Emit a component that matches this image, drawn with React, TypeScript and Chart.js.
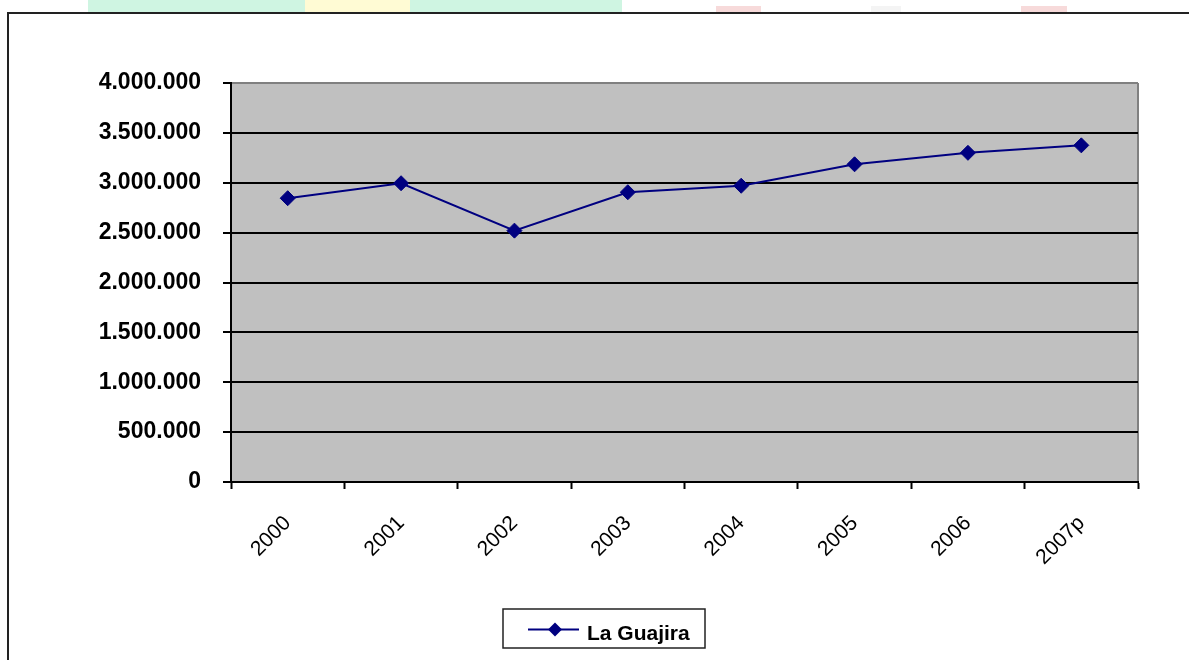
import React, { useEffect, useRef } from 'react';
import { Chart, registerables } from 'chart.js';

Chart.register(...registerables);

const categories = ['2000', '2001', '2002', '2003', '2004', '2005', '2006', '2007p'];
const seriesLabel = 'La Guajira';
const seriesValues = [2845000, 2995000, 2520000, 2905000, 2970000, 3185000, 3300000, 3375000];
const yTickValues = [0, 500000, 1000000, 1500000, 2000000, 2500000, 3000000, 3500000, 4000000];

const LINE_COLOR = '#000080';
const FONT = "'Liberation Sans', Arial, sans-serif";

const fmt = (v: number) => String(Math.round(v)).replace(/\B(?=(\d{3})+(?!\d))/g, '.');

const plotBg = {
  id: 'plotBg',
  beforeDraw(chart: any) {
    const { ctx, chartArea } = chart;
    const { left, top, right, bottom } = chartArea;
    ctx.save();
    ctx.fillStyle = '#C0C0C0';
    ctx.fillRect(left, top, right - left, bottom - top);
    ctx.strokeStyle = '#808080';
    ctx.lineWidth = 2;
    ctx.beginPath();
    ctx.moveTo(right, top);
    ctx.lineTo(right, bottom);
    ctx.stroke();
    ctx.restore();
  },
};

const boxLegend = {
  id: 'boxLegend',
  afterDraw(chart: any) {
    const ctx = chart.ctx;
    const ds = chart.data.datasets[0];
    ctx.save();
    const bx = 503, by = 609, bw = 202, bh = 39;
    ctx.fillStyle = '#fff';
    ctx.fillRect(bx, by, bw, bh);
    ctx.lineWidth = 1.5;
    ctx.strokeStyle = '#222';
    ctx.strokeRect(bx, by, bw, bh);
    const ly = 629.5;
    ctx.strokeStyle = ds.borderColor;
    ctx.lineWidth = 2;
    ctx.beginPath();
    ctx.moveTo(528, ly);
    ctx.lineTo(579, ly);
    ctx.stroke();
    const cx = 555, r = 7;
    ctx.fillStyle = ds.pointBackgroundColor;
    ctx.beginPath();
    ctx.moveTo(cx - r, ly);
    ctx.lineTo(cx, ly - r);
    ctx.lineTo(cx + r, ly);
    ctx.lineTo(cx, ly + r);
    ctx.closePath();
    ctx.fill();
    ctx.fillStyle = '#000';
    ctx.font = `bold 21px ${FONT}`;
    ctx.textAlign = 'left';
    ctx.textBaseline = 'alphabetic';
    ctx.fillText(ds.label, 587, 639.5);
    ctx.restore();
  },
};

export default function App() {
  const ref = useRef<HTMLCanvasElement | null>(null);

  useEffect(() => {
    if (!ref.current) return;
    Chart.defaults.font.family = FONT;
    const chart = new Chart(ref.current, {
      type: 'line',
      data: {
        labels: categories,
        datasets: [
          {
            label: seriesLabel,
            data: seriesValues,
            borderColor: LINE_COLOR,
            backgroundColor: LINE_COLOR,
            pointBackgroundColor: LINE_COLOR,
            pointBorderColor: LINE_COLOR,
            borderWidth: 2,
            pointStyle: 'rectRot',
            pointRadius: 7.5,
            pointBorderWidth: 1,
            tension: 0,
            fill: false,
          },
        ],
      },
      options: {
        animation: false,
        responsive: false,
        devicePixelRatio: 1,
        layout: { padding: { left: 0, right: 51, top: 83, bottom: 0 } },
        plugins: {
          legend: { display: false },
          tooltip: { enabled: false },
          title: { display: false },
        },
        scales: {
          x: {
            type: 'category',
            offset: true,
            grid: {
              display: true,
              drawOnChartArea: false,
              drawTicks: true,
              offset: true,
              tickLength: 7,
              tickColor: '#000',
              tickWidth: 2,
              color: '#000',
            },
            border: { display: true, color: '#000', width: 2 },
            ticks: {
              color: '#000',
              font: { size: 21, family: FONT },
              maxRotation: 45,
              minRotation: 45,
              padding: 22,
              autoSkip: false,
            },
            afterFit: (s: any) => {
              s.height = 178;
            },
          },
          y: {
            min: 0,
            max: 4000000,
            afterBuildTicks: (s: any) => {
              s.ticks = yTickValues.map((v) => ({ value: v }));
            },
            grid: {
              color: (c: any) => (c.tick && c.tick.value === 4000000 ? '#808080' : '#000'),
              lineWidth: 2,
              tickLength: 8,
              tickColor: '#000',
              tickWidth: 2,
            },
            border: { display: true, color: '#000', width: 2 },
            ticks: {
              color: '#000',
              font: { size: 23, weight: 'bold', family: FONT },
              padding: 22,
              callback: (v: any) => fmt(Number(v)),
            },
            afterFit: (s: any) => {
              s.width = 231;
            },
          },
        },
      },
      plugins: [plotBg, boxLegend],
    });
    return () => chart.destroy();
  }, []);

  return (
    <div
      style={{
        position: 'fixed',
        left: 0,
        top: 0,
        width: 1189,
        height: 660,
        overflow: 'hidden',
        background: '#fff',
      }}
    >
      <div style={{ position: 'absolute', left: 88, top: 0, width: 534, height: 12, background: '#CFF5E2' }} />
      <div style={{ position: 'absolute', left: 305, top: 0, width: 105, height: 12, background: '#FFFBD4' }} />
      <div style={{ position: 'absolute', left: 716, top: 6, width: 45, height: 6, background: '#F7DADA' }} />
      <div style={{ position: 'absolute', left: 1021, top: 6, width: 46, height: 6, background: '#F7DADA' }} />
      <div style={{ position: 'absolute', left: 871, top: 6, width: 30, height: 6, background: '#F4F4F4' }} />
      <div
        style={{
          position: 'absolute',
          left: 7,
          top: 12,
          width: 1300,
          height: 800,
          border: '2px solid #222',
          boxSizing: 'border-box',
        }}
      />
      <canvas
        ref={ref}
        width={1189}
        height={660}
        style={{ position: 'absolute', left: 0, top: 0, width: 1189, height: 660 }}
      />
    </div>
  );
}
